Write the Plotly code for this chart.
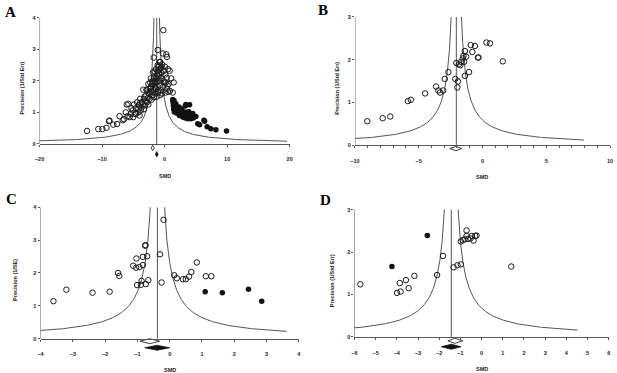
import plotly.graph_objects as go
import numpy as np

W, H = 617, 373

# ---------------- DATA ----------------
# Panel A (observed = open, imputed = filled)
A_open_smd = [-12.4, -10.6, -9.95, -9.3, -8.9, -8.8, -8.2, -7.6, -7.2, -6.7, -6.5, -6.2, -6.06, -5.9, -5.8,
              -5.6, -5.3, -5.1, -4.9, -4.7, -4.6, -4.4, -4.2, -4.1, -3.9, -3.8, -3.6, -3.4, -3.3, -3.2,
              -3.0, -2.9, -2.8, -2.6, -2.5, -2.4, -2.3, -2.2, -2.1, -2.0, -1.85, -1.74, -1.7, -1.6, -1.5,
              -1.4, -1.35, -1.25, -1.1, -1.05, -1.0, -0.9, -0.8, -0.7, -0.6, -0.5, -0.4, -0.27, -0.2, -0.1,
              0.0, 0.05, 0.15, 0.27, 0.35, 0.37, 0.45, 0.55, 0.65, 0.8, 0.85, 1.05, 1.3, 1.45,
              -2.0, -1.8, -1.6, -1.5, -1.3, -1.2, -1.1, -1.0, -0.9, -0.8, -1.3, -1.5, -1.7, -1.9, -2.2,
              -2.4, -2.7, -3.0, -3.2, -3.5, -3.7, -2.6, -2.1, -1.4, -0.6, -0.3, -0.2, 0.2, 0.1, -0.5,
              -1.0, -0.7, -1.2, -0.4, 0.4, 0.6, -1.6, -1.1, -0.8, -0.5, -2.3, -2.8, -4.2, -4.6, -3.9,
              -3.3, -5.0, -5.4, -4.0]
A_open_prec = [0.41, 0.47, 0.47, 0.51, 0.72, 0.74, 0.61, 0.63, 0.88, 0.75, 0.78, 1.0, 1.25, 0.88, 1.27,
               0.85, 1.13, 1.06, 1.25, 0.95, 1.13, 1.32, 1.11, 1.22, 1.43, 1.06, 1.32, 1.72, 1.43, 1.22,
               1.53, 1.72, 1.32, 1.9, 1.6, 1.43, 1.76, 2.08, 1.66, 1.9, 2.27, 2.74, 1.48, 2.0, 1.76,
               2.37, 2.1, 1.95, 2.98, 1.63, 2.45, 2.23, 1.85, 2.6, 2.4, 2.08, 2.52, 2.87, 3.61, 2.32,
               1.95, 2.45, 1.63, 2.84, 2.1, 2.76, 1.85, 2.37, 1.9, 2.32, 1.68, 2.08, 1.63, 1.95,
               1.55, 1.7, 1.8, 1.95, 2.05, 2.2, 2.3, 2.15, 2.0, 2.35, 1.85, 1.6, 2.1, 2.0, 1.8,
               1.65, 1.45, 1.35, 1.5, 1.25, 1.15, 1.25, 1.4, 1.75, 1.7, 1.8, 2.0, 1.95, 2.2, 2.25,
               1.65, 1.55, 1.5, 1.6, 1.75, 1.65, 2.3, 2.5, 2.6, 2.45, 1.95, 1.7, 1.0, 0.95, 1.3,
               1.1, 0.85, 0.95, 0.9]
A_fill_smd = [1.3, 1.35, 1.4, 1.45, 1.55, 1.7, 1.8, 1.5, 1.6, 2.1, 2.3, 2.35, 2.6, 2.75, 2.9, 3.2, 3.3,
              3.3, 3.4, 3.4, 3.7, 3.85, 4.0, 4.05, 4.2, 4.5, 4.6, 5.0, 5.3, 5.6, 6.3, 6.4, 6.8, 7.4,
              8.2, 9.9, 2.0, 2.5, 1.9, 3.0]
A_fill_prec = [1.41, 1.32, 1.22, 1.11, 1.01, 1.09, 1.27, 1.38, 1.17, 1.03, 1.17, 0.9, 0.96, 1.11, 0.85,
               1.01, 1.2, 0.82, 0.96, 1.25, 0.8, 1.03, 1.24, 0.9, 0.8, 0.96, 0.82, 0.87, 0.64, 0.61,
               0.75, 0.72, 0.54, 0.48, 0.45, 0.41, 1.15, 1.05, 0.98, 0.92]
A_summary = dict(obs=(-1.9, -2.16, -1.64), adj=(-1.26, -1.46, -1.06))
A_funnel = dict(center=-1.26, k=1.75, pmin=0.084)

# Panel B
B_open_smd = [-9.03, -7.82, -7.23, -5.85, -5.62, -4.5, -3.64, -3.46, -3.33, -3.08, -2.95, -2.67, -2.13,
              -2.05, -1.97, -1.92, -1.85, -1.74, -1.67, -1.54, -1.49, -1.44, -1.38, -1.38, -1.28, -1.05,
              -0.92, -0.79, -0.59, -0.36, -0.31, 0.31, 0.59, 1.59]
B_open_prec = [0.56, 0.63, 0.67, 1.03, 1.06, 1.21, 1.37, 1.28, 1.23, 1.28, 1.55, 1.71, 1.55, 1.92, 1.35,
               1.49, 1.89, 1.87, 1.95, 2.03, 2.09, 1.95, 2.2, 1.62, 2.07, 1.71, 2.34, 2.18, 2.32, 2.05,
               2.05, 2.4, 2.38, 1.96]
B_fill_smd = []
B_fill_prec = []
B_summary = dict(obs=(-2.08, -2.56, -1.62))
B_funnel = dict(center=-2.05, k=1.2, pmin=0.12)

# Panel C
C_open_smd = [-3.6, -3.2, -2.39, -1.86, -1.6, -1.56, -1.13, -1.04, -1.03, -1.01, -0.94, -0.89, -0.87,
              -0.83, -0.83, -0.75, -0.76, -0.74, -0.7, -0.66, -0.3, -0.25, -0.19, 0.14, 0.22, 0.41, 0.5,
              0.6, 0.67, 0.84, 1.12, 1.29]
C_open_prec = [1.14, 1.49, 1.4, 1.43, 2.0, 1.91, 2.22, 2.16, 2.44, 1.63, 2.18, 1.64, 1.76, 2.24, 2.49,
               2.85, 2.83, 1.66, 2.51, 1.78, 2.57, 1.71, 3.62, 1.93, 1.84, 1.81, 1.81, 1.89, 2.03, 2.32,
               1.9, 1.9]
C_fill_smd = [1.1, 1.63, 2.44, 2.85]
C_fill_prec = [1.43, 1.4, 1.5, 1.14]
C_summary = dict(obs=(-0.62, -0.92, -0.31), adj=(-0.39, -0.77, 0.0))
C_funnel = dict(center=-0.38, k=0.88, pmin=0.22)

# Panel D
D_open_smd = [-5.72, -3.99, -3.82, -3.86, -3.57, -3.44, -3.17, -2.1, -1.82, -1.32, -1.14, -0.98, -0.98,
              -0.89, -0.8, -0.71, -0.71, -0.63, -0.52, -0.46, -0.38, -0.3, -0.24, 1.4]
D_open_prec = [1.24, 1.04, 1.07, 1.27, 1.34, 1.15, 1.44, 1.46, 1.91, 1.64, 1.69, 1.71, 2.25, 2.28, 2.3,
               2.51, 2.38, 2.31, 2.32, 2.38, 2.27, 2.38, 2.39, 1.66]
D_fill_smd = [-4.23, -2.56]
D_fill_prec = [1.66, 2.39]
D_summary = dict(obs=(-1.26, -1.59, -0.89), adj=(-1.43, -1.9, -0.97))
D_funnel = dict(center=-1.43, k=0.97, pmin=0.163)

# ---------------- LAYOUT (pixel geometry) ----------------
panels = [
    dict(name="A", open=(A_open_smd, A_open_prec), fill=(A_fill_smd, A_fill_prec), summ=A_summary,
         fun=A_funnel, xr=(-20, 20), xt=[-20, -10, 0, 10, 20], xminor=None, ymax=4, ymin=-0.45,
         xpx=(35, 288.4), ytop=15, y0=142, ylab="Precision (1/Std Err)", ytx=16.7,
         letter=(6, 9), dy=dict(obs=-0.13, adj=-0.33), dh=0.085),
    dict(name="B", open=(B_open_smd, B_open_prec), fill=(B_fill_smd, B_fill_prec), summ=B_summary,
         fun=B_funnel, xr=(-10, 10), xt=[-10, -5, 0, 5, 10], xminor=1, ymax=3, ymin=-0.33,
         xpx=(354.5, 613), ytop=14, y0=143.3, ylab="Precision (1/Std Err)", ytx=336,
         letter=(322.5, 7), dy=dict(obs=-0.08), dh=0.05),
    dict(name="C", open=(C_open_smd, C_open_prec), fill=(C_fill_smd, C_fill_prec), summ=C_summary,
         fun=C_funnel, xr=(-4, 4), xt=[-4, -3, -2, -1, 0, 1, 2, 3, 4], xminor=None, ymax=4, ymin=-0.45,
         xpx=(36, 297.7), ytop=206, y0=338.3, ylab="Precision (1/SE)", ytx=10.7,
         letter=(7, 197.5), dy=dict(obs=-0.08, adj=-0.28), dh=0.075),
    dict(name="D", open=(D_open_smd, D_open_prec), fill=(D_fill_smd, D_fill_prec), summ=D_summary,
         fun=D_funnel, xr=(-6, 6), xt=list(range(-6, 7)), xminor=None, ymax=3, ymin=-0.35,
         xpx=(354, 611.7), ytop=208.3, y0=336.7, ylab="Precision (1/Std Err)", ytx=330.7,
         letter=(324.5, 198.5), dy=dict(obs=-0.09, adj=-0.23), dh=0.06),
]

LINE = "#555555"
TICKFONT = dict(family="Liberation Sans", size=5.5, color="#222", weight="bold")

fig = go.Figure()
annotations = []
shapes = []

for i, P in enumerate(panels, start=1):
    xs = "" if i == 1 else str(i)
    xa, ya = "x" + xs, "y" + xs
    ppu = (P["y0"] - P["ytop"]) / P["ymax"]
    ybot = P["y0"] - P["ymin"] * ppu
    ydom = [(H - ybot) / H, (H - P["ytop"]) / H]
    xdom = [P["xpx"][0] / W, P["xpx"][1] / W]

    # funnel
    c, k, pmin = P["fun"]["center"], P["fun"]["k"], P["fun"]["pmin"]
    p = np.geomspace(pmin, P["ymax"] * 1.05, 300)
    fig.add_trace(go.Scatter(x=c - k / p, y=p, mode="lines", line=dict(color=LINE, width=1),
                             xaxis=xa, yaxis=ya, hoverinfo="skip", showlegend=False))
    fig.add_trace(go.Scatter(x=c + k / p, y=p, mode="lines", line=dict(color=LINE, width=1),
                             xaxis=xa, yaxis=ya, hoverinfo="skip", showlegend=False))
    fig.add_trace(go.Scatter(x=[c, c], y=[0, P["ymax"]], mode="lines", line=dict(color=LINE, width=1),
                             xaxis=xa, yaxis=ya, hoverinfo="skip", showlegend=False))

    # points
    fig.add_trace(go.Scatter(x=P["open"][0], y=P["open"][1], mode="markers",
                             marker=dict(symbol="circle-open", size=5.5, color="#1a1a1a", line=dict(width=1)),
                             xaxis=xa, yaxis=ya, showlegend=False))
    if P["fill"][0]:
        fig.add_trace(go.Scatter(x=P["fill"][0], y=P["fill"][1], mode="markers",
                                 marker=dict(symbol="circle", size=5.5, color="#111"),
                                 xaxis=xa, yaxis=ya, showlegend=False))

    # summary diamonds
    for key, filled in (("obs", False), ("adj", True)):
        if key not in P["summ"]:
            continue
        est, lo, hi = P["summ"][key]
        yc, h = P["dy"][key], P["dh"]
        fig.add_trace(go.Scatter(x=[lo, est, hi, est, lo], y=[yc, yc + h, yc, yc - h, yc],
                                 mode="lines", fill="toself",
                                 fillcolor="#111" if filled else "white",
                                 line=dict(color="#111", width=0.8),
                                 xaxis=xa, yaxis=ya, hoverinfo="skip", showlegend=False))

    # y axis line (0 .. ymax)
    shapes.append(dict(type="line", xref=xa, yref=ya, x0=P["xr"][0], x1=P["xr"][0], y0=0, y1=P["ymax"],
                       line=dict(color=LINE, width=1)))

    xaxis = dict(domain=xdom, range=list(P["xr"]), tickvals=P["xt"], anchor="free",
                 position=(H - P["y0"]) / H, showline=True, linecolor=LINE, linewidth=1,
                 ticks="outside", ticklen=2, tickcolor=LINE, tickfont=TICKFONT,
                 ticklabelstandoff=8, showgrid=False, zeroline=False, fixedrange=True)
    if P["xminor"]:
        xaxis["minor"] = dict(dtick=P["xminor"], ticks="outside", ticklen=1.5, tickcolor=LINE)
    yaxis = dict(domain=ydom, range=[P["ymin"], P["ymax"]], tickvals=list(range(P["ymax"] + 1)),
                 anchor=xa, showline=False, ticks="outside", ticklen=2, tickcolor=LINE,
                 tickfont=TICKFONT, showgrid=False, zeroline=False, fixedrange=True)
    fig.update_layout(**{"xaxis" + xs: xaxis, "yaxis" + xs: yaxis})

    # titles
    annotations.append(dict(text="SMD", xref="paper", yref="paper",
                            x=(P["xpx"][0] + P["xpx"][1]) / 2 / W, y=(H - (P["y0"] + 32)) / H,
                            showarrow=False, font=TICKFONT, xanchor="center", yanchor="middle"))
    annotations.append(dict(text=P["ylab"], xref="paper", yref="paper", textangle=-90,
                            x=P["ytx"] / W, y=(H - (P["ytop"] + ybot) / 2) / H,
                            showarrow=False, font=TICKFONT, xanchor="center", yanchor="middle"))
    annotations.append(dict(text=P["name"], xref="paper", yref="paper",
                            x=P["letter"][0] / W, y=(H - P["letter"][1]) / H, showarrow=False,
                            font=dict(family="Liberation Serif", size=15, color="#000", weight="bold"),
                            xanchor="center", yanchor="middle"))

fig.update_layout(width=W, height=H, margin=dict(l=0, r=0, t=0, b=0),
                  paper_bgcolor="white", plot_bgcolor="white",
                  annotations=annotations, shapes=shapes, showlegend=False)

fig.write_html("out.html", config={"displayModeBar": False},
               post_script="document.body.style.margin='0px';document.body.style.padding='0px';")
